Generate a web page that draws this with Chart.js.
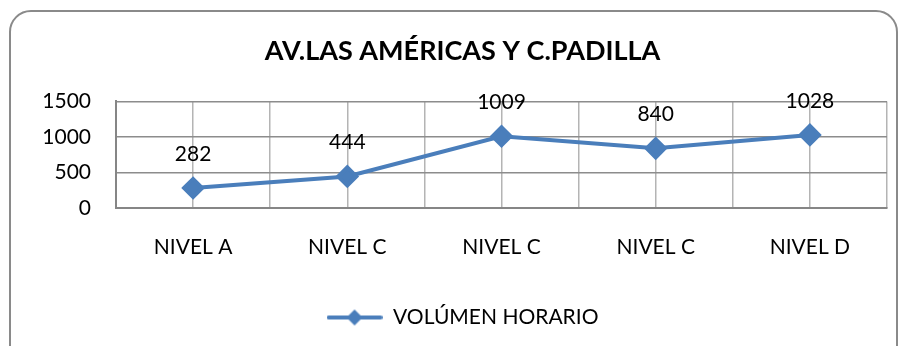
<!DOCTYPE html>
<html>
<head>
<meta charset="utf-8">
<script src="https://cdn.jsdelivr.net/npm/chart.js@4.4.1/dist/chart.umd.min.js"></script>
<style>
  html, body { margin: 0; padding: 0; background: #fff; }
  body { width: 905px; height: 346px; position: relative; overflow: hidden; }
  .frame {
    position: absolute; left: 9px; top: 10px; width: 889px; height: 360px;
    border: 2px solid #8a8a8a; border-radius: 22px; box-sizing: border-box;
  }
  #chart { position: absolute; left: 0; top: 0; }
</style>
</head>
<body>
<div class="frame"></div>
<canvas id="chart" width="905" height="346"></canvas>
<script>
document.addEventListener('DOMContentLoaded', () => {
    "use strict";

    // Volumen horario por nivel
    var niveles = ['NIVEL A', 'NIVEL C', 'NIVEL C', 'NIVEL C', 'NIVEL D'];
    var volumen = [282, 444, 1009, 840, 1028];
    var yTicks = [0, 500, 1000, 1500];

    var azul = '#4a7ebb';
    var fuente = 'Lato, "Open Sans", sans-serif';

    // legend swatch: short line with a diamond in the middle
    var swatch = document.createElement('canvas');
    swatch.width = 56; swatch.height = 18;
    var sc = swatch.getContext('2d');
    sc.strokeStyle = azul; sc.lineWidth = 4; sc.lineCap = 'round';
    sc.beginPath(); sc.moveTo(2, 9); sc.lineTo(54, 9); sc.stroke();
    sc.fillStyle = azul;
    sc.beginPath(); sc.moveTo(28, 1); sc.lineTo(36, 9); sc.lineTo(28, 17); sc.lineTo(20, 9); sc.closePath(); sc.fill();

    // value labels above each point
    var etiquetas = {
        id: 'etiquetas',
        afterDatasetsDraw: function(chart) {
            var ctx = chart.ctx;
            var meta = chart.getDatasetMeta(0);
            ctx.save();
            ctx.font = '21px ' + fuente;
            ctx.fillStyle = '#000';
            ctx.textAlign = 'center';
            ctx.textBaseline = 'middle';
            meta.data.forEach(function(pt, i) {
                ctx.fillText(String(volumen[i]), pt.x, pt.y - 34);
            });
            ctx.restore();
        }
    };

    var ctx = document.getElementById('chart').getContext('2d');
    new Chart(ctx, {
        type: 'line',
        data: {
            labels: niveles,
            datasets: [{
                label: 'VOLÚMEN HORARIO',
                data: volumen,
                borderColor: azul,
                backgroundColor: azul,
                borderWidth: 4,
                pointStyle: 'rectRot',
                pointRadius: 9,
                pointHoverRadius: 9,
                tension: 0,
                clip: false
            }]
        },
        options: {
            responsive: false,
            animation: false,
            layout: { padding: { left: 38, right: 18, top: 0, bottom: 8 } },
            plugins: {
                title: {
                    display: true,
                    text: 'AV.LAS AMÉRICAS Y C.PADILLA',
                    color: '#000',
                    font: { family: fuente, size: 27, weight: 'bold' },
                    padding: { top: 35, bottom: 34 }
                },
                legend: {
                    position: 'bottom',
                    labels: {
                        color: '#000',
                        font: { family: fuente, size: 21 },
                        usePointStyle: true,
                        pointStyleWidth: 56,
                        generateLabels: function(chart) {
                            return [{
                                text: chart.data.datasets[0].label,
                                pointStyle: swatch,
                                fillStyle: azul,
                                strokeStyle: azul,
                                lineWidth: 0,
                                datasetIndex: 0
                            }];
                        }
                    }
                },
                tooltip: { enabled: false }
            },
            scales: {
                x: {
                    offset: true,
                    grid: { offset: false, color: '#b4b4b4', lineWidth: 1.5, drawTicks: false },
                    border: { color: '#868686', width: 2 },
                    ticks: { color: '#000', font: { family: fuente, size: 21 }, padding: 27 },
                    afterFit: function(scale) { scale.height = 89; }
                },
                x2: {
                    type: 'category',
                    labels: niveles,
                    position: 'bottom',
                    offset: true,
                    grid: { offset: true, color: '#b4b4b4', lineWidth: 1.5, drawTicks: false },
                    border: { display: false },
                    ticks: { display: false },
                    afterFit: function(scale) { scale.height = 0; }
                },
                y: {
                    min: 0,
                    max: 1500,
                    afterBuildTicks: function(scale) {
                        scale.ticks = yTicks.map(function(v) { return { value: v }; });
                    },
                    grid: { color: '#8c8c8c', lineWidth: 1.5, drawTicks: false },
                    border: { color: '#868686', width: 2 },
                    ticks: {
                        color: '#000',
                        font: { family: fuente, size: 21 },
                        padding: 25,
                        callback: function(v) { return String(v); }
                    },
                    afterFit: function(scale) { scale.width = 78; }
                }
            }
        },
        plugins: [etiquetas]
    });
});
</script>
</body>
</html>
